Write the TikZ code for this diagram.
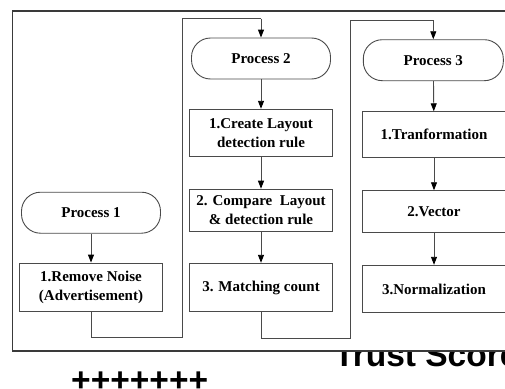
\documentclass[tikz,border=0pt]{standalone}
\usepackage{fontspec}
\setmainfont{Liberation Serif}
\newfontfamily\headsans{Liberation Sans}
\usetikzlibrary{arrows.meta}

\definecolor{frameline}{HTML}{3A3A3A}
\definecolor{boxline}{HTML}{4A4A4A}

\tikzset{
  boxtext/.style={font=\bfseries\fontsize{15}{19}\selectfont, text=black, align=center, inner sep=0pt},
  terminal/.style={boxtext, draw=boxline, line width=0.9pt, rounded corners=19pt,
                   minimum width=139pt, minimum height=41pt},
  stepbox/.style={boxtext, draw=boxline, line width=0.9pt, minimum width=143pt},
  flow/.style={draw=boxline, line width=0.9pt, -{Triangle[length=8pt,width=6pt,color=black]}},
  link/.style={draw=boxline, line width=0.9pt},
  bigsans/.style={font=\headsans\bfseries\fontsize{33.5}{33.5}\selectfont, text=black, inner sep=0pt}
}

\begin{document}
\begin{tikzpicture}[x=1pt, y=-1pt]
  \clip (0,0) rectangle (505,388);
  \fill[white] (0,0) rectangle (505,388);

  % outer frame, running off the right edge
  \draw[frameline, line width=1.2pt] (12.5,11) rectangle (530,351);

  % column 1
  \node[terminal] (p1) at (91,212.7) {Process 1};
  \node[stepbox, minimum height=48pt] (b11) at (91,287) {1.Remove Noise\\(Advertisement)};

  % column 2
  \node[terminal] (p2) at (261,58.5) {Process 2};
  \node[stepbox, minimum height=47.5pt] (b21) at (261,133) {1.Create Layout\\detection rule};
  \node[stepbox, minimum height=42.5pt] (b22) at (261,210.4) {2. Compare\ \ Layout\\\& detection rule};
  \node[stepbox, minimum height=48.5pt] (b23) at (261,287.5) {3. Matching count};

  % column 3
  \node[terminal, minimum width=140pt] (p3) at (433.3,60.2) {Process 3};
  \node[stepbox, minimum width=144pt, minimum height=45.5pt] (b31) at (434,134.5) {1.Tranformation};
  \node[stepbox, minimum width=144pt, minimum height=42pt] (b32) at (434,211.7) {2.Vector};
  \node[stepbox, minimum width=144pt, minimum height=47.5pt] (b33) at (434,289) {3.Normalization};

  % arrows inside each column
  \draw[flow] (p1) -- (b11);
  \draw[flow] (p2) -- (b21);
  \draw[flow] (b21) -- (b22);
  \draw[flow] (b22) -- (b23);
  \draw[flow] (p3) -- (b31);
  \draw[flow] (b31) -- (b32);
  \draw[flow] (b32) -- (b33);

  % hand-over from one process to the next
  \coordinate (j1a) at (91,337);
  \coordinate (j1b) at (182,337);
  \coordinate (j1c) at (182,18.5);
  \coordinate (j1d) at (261,18.5);
  \draw[link] (b11.south) -- (j1a) -- (j1b) -- (j1c) -- (j1d);
  \draw[flow] (j1d) -- (p2.north);

  \coordinate (j2a) at (261,338.5);
  \coordinate (j2b) at (350,338.5);
  \coordinate (j2c) at (350,20);
  \coordinate (j2d) at (433.3,20);
  \draw[link] (b23.south) -- (j2a) -- (j2b) -- (j2c) -- (j2d);
  \draw[flow] (j2d) -- (p3.north);

  % captions below the frame
  \begin{scope}
    \clip (0,352.5) rectangle (505,388);
    \node[bigsans, anchor=base west] (trust) at (334,366.7) {Trust Score};
  \end{scope}
  \node[bigsans, anchor=base west] (plus) at (71,391) {+++++++};
\end{tikzpicture}
\end{document}
